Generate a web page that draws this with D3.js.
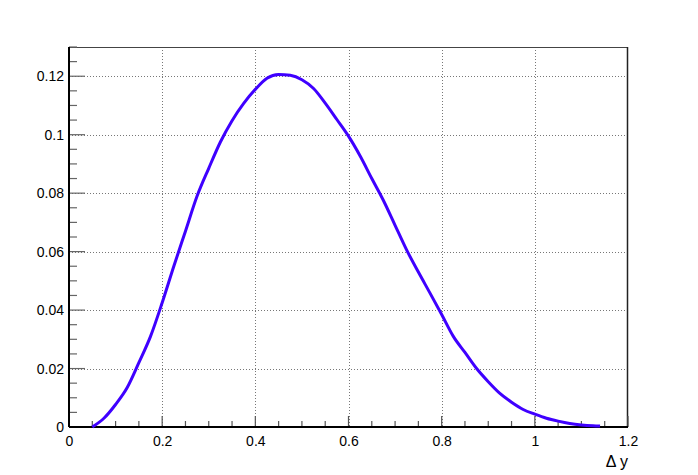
<!DOCTYPE html>
<html><head><meta charset="utf-8">
<script src="https://cdn.jsdelivr.net/npm/d3@7"></script>
<style>
html,body{margin:0;padding:0;background:#fff;}
svg{display:block;font-family:"Liberation Sans",Arial,Helvetica,sans-serif;}
</style></head>
<body><svg id="c" width="698" height="475"></svg>
<script>
const xValues = [0.05,0.075,0.1,0.125,0.15,0.175,0.2,0.225,0.25,0.275,0.3,0.325,0.35,0.375,0.4,0.425,0.45,0.475,0.5,0.525,0.55,0.575,0.6,0.625,0.65,0.675,0.7,0.725,0.75,0.775,0.8,0.825,0.85,0.875,0.9,0.925,0.95,0.975,1.0,1.025,1.05,1.075,1.1,1.125,1.14];
const yValues = [0,0.003,0.0077,0.0135,0.022,0.031,0.0425,0.055,0.067,0.079,0.0885,0.0975,0.1048,0.1107,0.1155,0.1193,0.1206,0.1203,0.1188,0.1158,0.1108,0.1052,0.0995,0.0927,0.085,0.0775,0.069,0.0605,0.053,0.0458,0.0385,0.031,0.0255,0.020,0.0155,0.0115,0.0085,0.006,0.0044,0.003,0.002,0.0012,0.0007,0.0004,0.0003];
const xTickLabels = ["0","0.2","0.4","0.6","0.8","1","1.2"];
const yTickLabels = ["0","0.02","0.04","0.06","0.08","0.1","0.12"];
const xTitle = "Δ y";

const svg = d3.select("#c");
const L = 69, R = 628, T = 47, B = 427;
const x = d3.scaleLinear().domain([0, 1.2]).range([L, R]);
const y = d3.scaleLinear().domain([0, 0.13]).range([B, T]);

const xMajor = xTickLabels.map(Number);
const yMajor = yTickLabels.map(Number);
const xMinor = d3.range(0, 1.2001, 0.05).filter(v => !xMajor.some(m => Math.abs(m - v) < 1e-6));
const yMinor = d3.range(0, 0.13001, 0.005).filter(v => !yMajor.some(m => Math.abs(m - v) < 1e-6));

// grid
const g = svg.append("g").attr("stroke", "#777").attr("stroke-width", 1).attr("stroke-dasharray", "1,2");
xMajor.filter(v => v > 0 && v < 1.2).forEach(v => {
  g.append("line").attr("x1", Math.round(x(v)) + 0.5).attr("x2", Math.round(x(v)) + 0.5).attr("y1", T).attr("y2", B);
});
yMajor.filter(v => v > 0).forEach(v => {
  g.append("line").attr("x1", L).attr("x2", R).attr("y1", Math.round(y(v)) + 0.5).attr("y2", Math.round(y(v)) + 0.5);
});

// frame
svg.append("line").attr("x1", L).attr("x2", R).attr("y1", T + 0.5).attr("y2", T + 0.5).attr("stroke", "#444").attr("stroke-width", 1);
svg.append("line").attr("x1", R - 0.5).attr("x2", R - 0.5).attr("y1", T).attr("y2", B).attr("stroke", "#222").attr("stroke-width", 1.5);

// x axis
const xAxis = d3.axisBottom(x).tickValues(xMajor).tickFormat((d, i) => xTickLabels[i]).tickSize(0).tickPadding(9);
const xa = svg.append("g").attr("transform", `translate(0,${B})`).call(xAxis);
xa.select(".domain").remove();
xa.selectAll("text").attr("font-size", 14).attr("fill", "#000").attr("font-family", "Liberation Sans, Arial, sans-serif");
const xt = svg.append("g").attr("stroke", "#555").attr("stroke-width", 1.2);
xMajor.forEach(v => xt.append("line").attr("x1", x(v)).attr("x2", x(v)).attr("y1", B).attr("y2", B - 11));
xMinor.forEach(v => xt.append("line").attr("x1", x(v)).attr("x2", x(v)).attr("y1", B).attr("y2", B - 6));

// y axis
const yAxis = d3.axisLeft(y).tickValues(yMajor).tickFormat((d, i) => yTickLabels[i]).tickSize(0).tickPadding(5);
const ya = svg.append("g").attr("transform", `translate(${L},0)`).call(yAxis);
ya.select(".domain").remove();
ya.selectAll("text").attr("font-size", 14).attr("fill", "#000").attr("font-family", "Liberation Sans, Arial, sans-serif");
const yt = svg.append("g").attr("stroke", "#666").attr("stroke-width", 1.2);
yMajor.forEach(v => yt.append("line").attr("x1", L).attr("x2", L + 16).attr("y1", y(v)).attr("y2", y(v)));
yMinor.forEach(v => yt.append("line").attr("x1", L).attr("x2", L + 8).attr("y1", y(v)).attr("y2", y(v)));

// axis lines
svg.append("line").attr("x1", L).attr("x2", R).attr("y1", B).attr("y2", B).attr("stroke", "#000").attr("stroke-width", 2);
svg.append("line").attr("x1", L).attr("x2", L).attr("y1", T).attr("y2", B).attr("stroke", "#000").attr("stroke-width", 2);

// curve
const pts = xValues.map((v, i) => [v, yValues[i]]);
svg.append("path").datum(pts)
  .attr("d", d3.line().x(d => x(d[0])).y(d => y(d[1])).curve(d3.curveMonotoneX))
  .attr("fill", "none").attr("stroke", "#3f00ff").attr("stroke-width", 3).attr("stroke-linejoin", "round");

// x title
svg.append("text").attr("x", R).attr("y", 467).attr("text-anchor", "end")
  .attr("font-size", 16).attr("fill", "#000").text(xTitle);
</script></body></html>
